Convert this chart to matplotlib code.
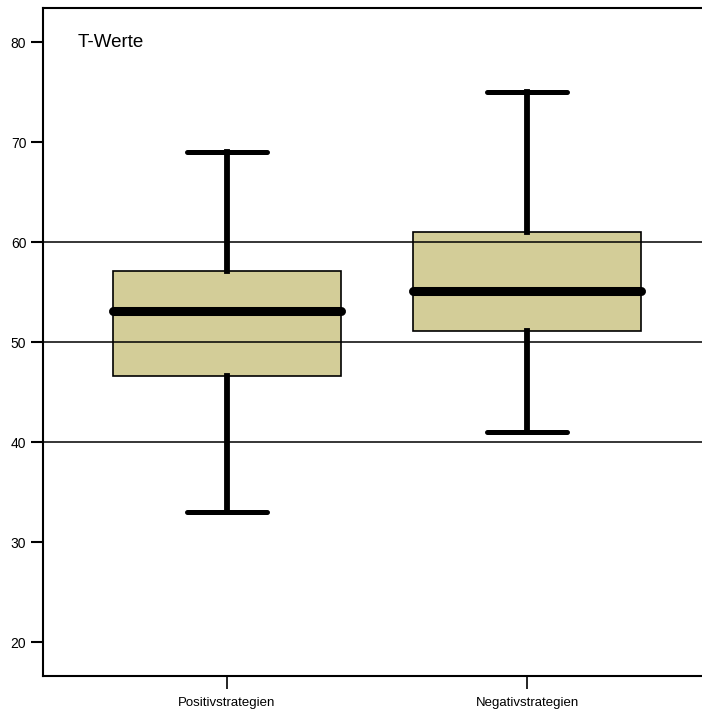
import matplotlib.pyplot as plt

plt.rcParams['font.family'] = ['Liberation Sans', 'DejaVu Sans']

# Boxplot values
groups = ['Positivstrategien', 'Negativstrategien']
whisker_low = [33, 41]
q1 = [46.6, 51.1]
medians = [53.1, 55.1]
q3 = [57.1, 61.0]
whisker_high = [69, 75]
grid_values = [40, 50, 60]
yticks = [20, 30, 40, 50, 60, 70, 80]

stats = []
for i, name in enumerate(groups):
    stats.append({'label': name, 'whislo': whisker_low[i], 'q1': q1[i],
                  'med': medians[i], 'q3': q3[i], 'whishi': whisker_high[i],
                  'fliers': []})

fig = plt.figure(figsize=(7.02, 7.11), dpi=100)
# axes run a little past the right edge of the picture, as in the original
ax = fig.add_axes([43 / 702, 35 / 711, 668 / 702, 668 / 711])

ax.bxp(stats, positions=[1, 2], widths=0.757, patch_artist=True,
       showfliers=False,
       boxprops=dict(facecolor='#d3cd98', edgecolor='black', linewidth=1.2),
       medianprops=dict(color='black', linewidth=6.5, solid_capstyle='round'),
       whiskerprops=dict(color='black', linewidth=4.2),
       capprops=dict(color='black', linewidth=3.6, solid_capstyle='round'),
       capwidths=0.267)

for v in grid_values:
    ax.axhline(v, color='black', linewidth=1.1, zorder=2.5)

ax.set_xlim(0.387, 2.613)
ax.set_ylim(16.6, 83.4)
ax.set_yticks(yticks)
ax.set_xticks([1, 2])
ax.set_xticklabels(groups, fontsize=9.5)
ax.tick_params(axis='y', direction='out', length=9, width=1.5, labelsize=10, pad=3)
ax.tick_params(axis='x', direction='out', length=9, width=1.2, pad=6)

for s in ax.spines.values():
    s.set_linewidth(1.5)
ax.spines['right'].set_visible(False)

ax.text(0.504, 80, 'T-Werte', fontsize=13.5, va='center', ha='left')

fig.savefig('out.png', dpi=100)
